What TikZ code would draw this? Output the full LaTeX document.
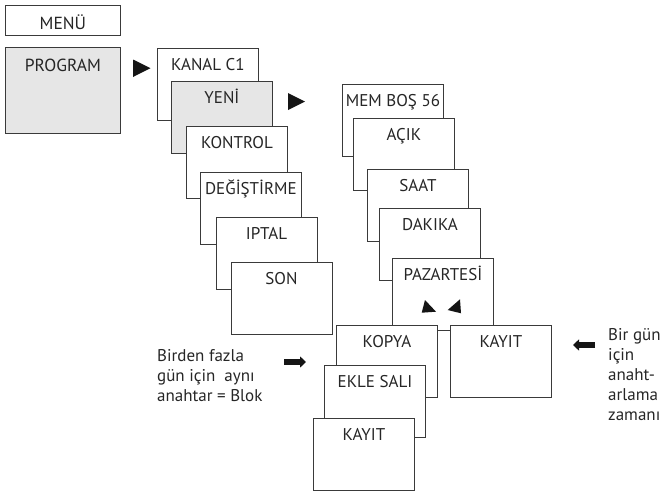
\documentclass[tikz,border=0pt]{standalone}
\usepackage{fontspec}
\setmainfont{PT Sans}
\usetikzlibrary{arrows.meta}
\definecolor{rahmen}{HTML}{3A3A3A}
\definecolor{grau}{HTML}{E6E6E6}
\definecolor{schrift}{HTML}{262626}
\definecolor{pfeil}{HTML}{151515}

\begin{document}
\begin{tikzpicture}[x=1pt, y=-1pt,
  pantalla/.style={draw=rahmen, line width=0.9pt, fill=white, anchor=north west,
    minimum width=101pt, minimum height=72pt, inner sep=0pt,
    label={[anchor=base, yshift=-22pt, text=schrift, font=\fontsize{17}{20}\selectfont]north:#1}},
  menubox/.style={draw=rahmen, line width=0.9pt, fill=white, anchor=north west,
    minimum width=115pt, inner sep=0pt,
    label={[anchor=base, yshift=-24pt, text=schrift, font=\fontsize{17.5}{20}\selectfont]north:#1}},
  nota/.style={anchor=base west, align=left, inner sep=0pt, text=schrift,
    font=\fontsize{17}{20}\selectfont},
  flecha/.style={pfeil, line width=6pt, -{Triangle[length=6pt, width=11pt]}}]
  \useasboundingbox (0,0) rectangle (661,493);

  % Menu
  \node[menubox=MENÜ, minimum height=30pt] (menu) at (5,5) {};
  \node[menubox=PROGRAM, fill=grau, minimum height=86pt] (program) at (5,47) {};
  \fill[pfeil] (133,59.5) -- (133,77) -- (150.5,68.2) -- cycle;

  % Primera columna
  \node[pantalla=KANAL C1] (kanal) at (157,48) {};
  \node[pantalla=YENİ, fill=grau] (yeni) at (171,81) {};
  \node[pantalla=KONTROL] (kontrol) at (186,126) {};
  \node[pantalla=DEĞİŞTİRME] (degistirme) at (200,172) {};
  \node[pantalla=IPTAL] (iptal) at (215.5,217) {};
  \node[pantalla=SON] (son) at (230.5,262) {};
  \fill[pfeil] (288,93) -- (288,110) -- (305,101.5) -- cycle;

  % Segunda columna
  \node[pantalla=MEM BOŞ 56] (mem) at (342,84) {};
  \node[pantalla=AÇIK] (acik) at (353,118) {};
  \node[pantalla=SAAT] (saat) at (367,169) {};
  \node[pantalla=DAKIKA] (dakika) at (379,208) {};
  \node[pantalla=PAZARTESİ] (pazartesi) at (392,258) {};
  \fill[pfeil] (425,300) -- (421.7,312.7) -- (436,311.7) -- cycle;
  \fill[pfeil] (460,299.3) -- (447.7,310) -- (461,313.3) -- cycle;

  % Copia y guardar
  \node[pantalla=KOPYA] (kopya) at (336,325) {};
  \node[pantalla=KAYIT] (kayituno) at (450,325) {};
  \node[pantalla=EKLE SALI] (ekle) at (324,365) {};
  \node[pantalla=KAYIT] (kayitdos) at (313,418) {};

  % Notas
  \node[nota] (bloque) at (157,401.5) {Birden fazla\\gün için~ aynı\\anahtar = Blok};
  \node[nota] (undia) at (608,420.5) {Bir gün\\için\\anaht-\\arlama\\zamanı};
  \coordinate (bloqueini) at (284,362);
  \coordinate (bloquefin) at (306,362);
  \coordinate (undiaini) at (595,345);
  \coordinate (undiafin) at (573,345);
  \draw[flecha] (bloqueini) -- (bloquefin);
  \draw[flecha] (undiaini) -- (undiafin);
\end{tikzpicture}
\end{document}
